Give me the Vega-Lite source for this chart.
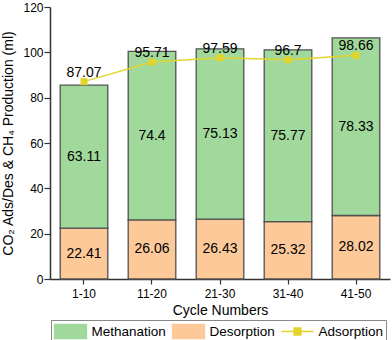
{
  "$schema": "https://vega.github.io/schema/vega-lite/v6.json",
  "width": 340,
  "height": 272,
  "autosize": "none",
  "padding": {"left": 50, "top": 7, "right": 2, "bottom": 61},
  "config": {
    "view": {"stroke": null},
    "font": "Liberation Sans",
    "axis": {
      "grid": false,
      "labelFont": "Liberation Sans",
      "titleFont": "Liberation Sans",
      "labelColor": "#000",
      "titleColor": "#000",
      "titleFontWeight": "normal",
      "domainColor": "#333",
      "tickColor": "#333",
      "domainWidth": 1.5,
      "tickWidth": 1.2,
      "labelFontSize": 12,
      "titleFontSize": 14
    }
  },
  "datasets": {
    "bars": [
      {"cycle": "1-10", "series": "Desorption", "value": 22.41},
      {"cycle": "1-10", "series": "Methanation", "value": 63.11},
      {"cycle": "11-20", "series": "Desorption", "value": 26.06},
      {"cycle": "11-20", "series": "Methanation", "value": 74.4},
      {"cycle": "21-30", "series": "Desorption", "value": 26.43},
      {"cycle": "21-30", "series": "Methanation", "value": 75.13},
      {"cycle": "31-40", "series": "Desorption", "value": 25.32},
      {"cycle": "31-40", "series": "Methanation", "value": 75.77},
      {"cycle": "41-50", "series": "Desorption", "value": 28.02},
      {"cycle": "41-50", "series": "Methanation", "value": 78.33}
    ],
    "ads": [
      {"cycle": "1-10", "value": 87.07},
      {"cycle": "11-20", "value": 95.71},
      {"cycle": "21-30", "value": 97.59},
      {"cycle": "31-40", "value": 96.7},
      {"cycle": "41-50", "value": 98.66}
    ]
  },
  "layer": [
    {
      "data": {"name": "bars"},
      "transform": [
        {"stack": "value", "groupby": ["cycle"], "sort": [{"field": "series", "order": "ascending"}], "as": ["v0", "v1"]}
      ],
      "layer": [
        {
          "mark": {"type": "bar", "stroke": "#505050", "strokeWidth": 1.3},
          "encoding": {
            "x": {
              "field": "cycle", "type": "nominal", "sort": null,
              "scale": {"paddingInner": 0.3, "paddingOuter": 0.15},
              "axis": {"title": "Cycle Numbers", "labelAngle": 0, "tickSize": 5, "labelPadding": 4, "titlePadding": 4}
            },
            "y": {
              "field": "v1", "type": "quantitative",
              "scale": {"domain": [0, 120], "nice": false},
              "axis": {
                "title": "CO₂ Ads/Des & CH₄ Production (ml)",
                "values": [0, 10, 20, 30, 40, 50, 60, 70, 80, 90, 100, 110, 120],
                "labelExpr": "datum.value % 20 === 0 ? datum.label : ''",
                "tickSize": {"condition": {"test": "datum.value % 20 === 0", "value": 6}, "value": 3},
                "labelPadding": 1,
                "titlePadding": 7
              }
            },
            "y2": {"field": "v0"},
            "color": {
              "field": "series", "type": "nominal",
              "scale": {"domain": ["Methanation", "Desorption", "Adsorption"], "range": ["#a0d99b", "#fdc998", "#e3d42c"]},
              "legend": {
                "orient": "none",
                "legendX": 1,
                "legendY": 313,
                "direction": "horizontal",
                "title": null,
                "labelFontSize": 13.5,
                "labelFont": "Liberation Sans",
                "labelColor": "#000",
                "symbolSize": 256,
                "symbolType": {"expr": "datum.value === 'Adsorption' ? 'M-1,0H3M0.56,-0.44H1.44V0.44H0.56Z' : 'M-1,-0.875H3V0.875H-1Z'"},
                "labelOffset": 20,
                "columnPadding": 3,
                "gridAlign": "none",
                "strokeColor": "#888",
                "fillColor": "white",
                "padding": 2.5,
                "symbolStrokeWidth": 1.3,
                "encode": {
                  "symbols": {
                    "update": {
                      "fill": {"signal": "datum.value === 'Adsorption' ? '#e3d42c' : (datum.value === 'Methanation' ? '#a0d99b' : '#fdc998')"},
                      "stroke": {"signal": "datum.value === 'Adsorption' ? '#e3d42c' : '#505050'"},
                      "opacity": {"value": 1},
                      "fillOpacity": {"value": 1}
                    }
                  }
                }
              }
            }
          }
        },
        {
          "transform": [{"calculate": "(datum.v0 + datum.v1) / 2", "as": "mid"}],
          "mark": {"type": "text", "fontSize": 14, "color": "#000", "font": "Liberation Sans"},
          "encoding": {
            "x": {"field": "cycle", "type": "nominal", "sort": null},
            "y": {"field": "mid", "type": "quantitative"},
            "text": {"field": "value", "type": "nominal"}
          }
        }
      ]
    },
    {
      "data": {"name": "ads"},
      "layer": [
        {
          "mark": {"type": "line", "strokeWidth": 1.5, "point": {"shape": "square", "size": 49, "filled": true}},
          "encoding": {
            "x": {"field": "cycle", "type": "nominal", "sort": null},
            "y": {"field": "value", "type": "quantitative"},
            "color": {"datum": "Adsorption"}
          }
        },
        {
          "mark": {"type": "text", "fontSize": 14, "color": "#000", "dy": -9, "font": "Liberation Sans"},
          "encoding": {
            "x": {"field": "cycle", "type": "nominal", "sort": null},
            "y": {"field": "value", "type": "quantitative"},
            "text": {"field": "value", "type": "nominal"}
          }
        }
      ]
    }
  ]
}
